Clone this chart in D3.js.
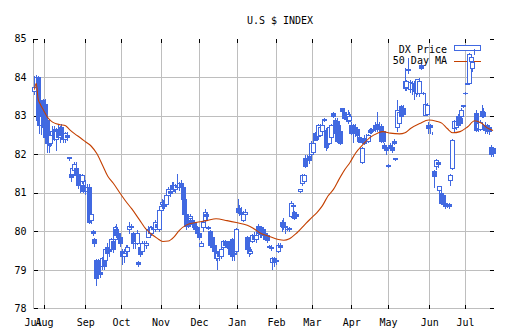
<!DOCTYPE html>
<html>
<head>
<meta charset="utf-8">
<script src="https://cdn.jsdelivr.net/npm/d3@7"></script>
<style>
  body { margin: 0; background: #fff; }
  svg { display: block; }
  text { font-family: "DejaVu Sans Mono", monospace; font-size: 10px; fill: #000; }
</style>
</head>
<body>
<svg id="chart" width="512" height="335"></svg>
<script>
// Daily DX futures prices, one entry per trading day (Jul 2012 - Jul 2013)
const open = [
  83.65,83.75,84.00,83.05,82.75,83.40,83.30,82.90,82.45,82.30,
  82.50,82.65,82.40,82.65,82.45,82.70,82.55,82.40,82.50,81.90,
  81.50,81.50,81.60,81.65,81.50,81.35,81.30,81.20,81.15,81.05,
  81.15,80.30,80.00,79.80,79.25,79.25,78.95,79.10,79.30,79.25,
  79.60,79.60,79.55,79.75,79.80,80.05,79.95,79.85,79.50,79.35,
  79.55,79.50,80.05,80.15,79.95,79.70,79.70,79.20,79.60,79.50,
  79.65,79.65,79.85,80.10,79.95,80.10,80.05,80.20,80.05,80.55,
  80.70,80.80,80.70,80.95,81.05,81.05,81.20,81.10,81.20,81.15,
  81.25,81.15,80.85,80.45,80.30,80.35,80.30,80.25,80.15,80.10,
  79.95,79.62,80.10,80.30,80.45,80.12,80.00,79.85,79.65,79.50,
  79.30,79.45,79.35,79.60,79.75,79.65,79.70,79.75,79.80,79.40,
  79.50,80.60,80.55,80.50,80.30,80.45,79.85,79.55,79.45,79.75,
  79.90,79.80,80.15,79.95,80.10,80.05,79.95,79.90,79.62,79.60,
  79.20,79.30,79.25,79.50,79.65,80.25,80.20,80.15,80.05,80.08,
  80.40,80.65,80.50,80.45,81.08,81.05,81.26,81.30,81.90,81.95,
  81.95,82.00,82.05,82.55,82.50,82.47,82.50,82.60,82.92,82.64,
  82.60,82.30,82.45,83.07,82.90,82.85,82.75,82.60,83.20,83.10,
  82.95,82.85,82.90,82.77,82.75,82.70,82.65,82.45,82.40,81.80,
  82.42,82.40,82.35,82.62,82.65,82.62,82.75,82.78,82.70,82.73,
  82.60,82.25,82.20,81.72,82.25,82.20,82.35,81.90,82.70,82.80,
  83.25,83.20,83.72,83.75,84.22,83.70,83.68,83.85,83.80,83.60,
  83.60,84.32,83.60,83.03,83.05,82.77,82.75,82.55,81.56,81.69,
  81.80,81.08,80.99,80.95,80.73,80.72,80.70,81.34,81.65,82.68,
  82.70,83.00,82.95,82.99,83.28,83.58,83.86,83.85,84.42,84.23,
  84.68,83.07,82.68,82.66,83.12,83.10,82.77,82.75,82.70,82.20,82.15
];
const high = [
  84.05,84.08,84.05,83.35,83.10,83.45,83.45,83.20,82.60,82.60,
  82.75,82.75,82.70,82.80,82.75,82.80,82.70,82.60,82.60,81.95,
  81.60,81.70,81.80,81.80,81.60,81.50,81.50,81.30,81.35,81.25,
  81.25,80.55,80.05,79.85,79.30,79.30,79.20,79.35,79.40,79.60,
  79.70,79.75,79.85,79.85,80.15,80.20,80.00,79.90,79.55,79.50,
  79.65,79.65,80.25,80.20,80.00,79.80,80.05,79.25,79.70,79.75,
  79.75,79.75,80.15,80.15,80.15,80.20,80.30,80.35,80.60,80.75,
  80.85,80.90,81.00,81.15,81.20,81.30,81.30,81.25,81.50,81.30,
  81.35,81.25,80.90,80.55,80.45,80.45,80.40,80.30,80.25,80.15,
  80.05,79.75,80.30,80.60,80.50,80.15,80.05,79.90,79.75,79.60,
  79.50,79.55,79.60,79.80,79.80,79.75,79.75,79.80,79.85,79.50,
  80.10,80.85,80.70,80.65,80.55,80.60,79.90,79.70,79.60,79.95,
  80.00,79.95,80.20,80.10,80.15,80.10,80.00,79.95,79.65,79.65,
  79.35,79.35,79.30,79.72,79.70,80.30,80.35,80.25,80.10,80.12,
  80.80,80.72,80.55,80.50,81.12,81.10,81.50,81.50,82.00,82.00,
  82.05,82.35,82.35,82.60,82.60,82.80,82.80,82.90,82.95,82.70,
  82.70,82.75,82.80,83.10,82.95,82.95,82.85,82.70,83.22,83.20,
  83.05,83.15,83.10,82.85,82.80,82.80,82.70,82.50,82.45,82.20,
  82.50,82.55,82.55,82.70,82.70,82.75,82.85,83.10,82.85,82.80,
  82.70,82.30,82.25,81.75,82.30,82.30,82.40,81.92,83.42,83.20,
  83.30,83.30,84.24,83.95,84.50,83.95,83.90,83.90,83.90,83.95,
  84.00,84.35,83.62,83.60,83.35,82.85,82.80,82.60,81.60,81.90,
  81.85,81.20,81.05,81.00,80.78,80.75,80.75,81.50,82.40,82.90,
  82.95,83.05,83.05,83.20,83.30,83.62,83.90,84.63,84.55,84.40,
  84.75,83.15,82.90,82.90,83.30,83.20,82.85,82.80,82.75,82.25,82.20
];
const low = [
  83.55,83.70,82.80,82.55,82.50,82.60,82.30,82.05,82.05,82.20,
  82.35,82.35,82.10,82.40,82.30,82.45,82.30,82.30,82.35,81.85,
  81.30,81.45,81.50,81.40,81.10,81.00,81.25,81.00,80.95,80.95,
  80.20,80.20,79.90,79.60,78.60,78.85,78.80,79.00,79.00,79.10,
  79.40,79.35,79.50,79.45,79.75,79.85,79.75,79.60,79.15,79.20,
  79.45,79.35,79.95,80.10,79.55,79.55,79.65,79.10,79.35,79.45,
  79.55,79.55,79.85,79.90,79.90,79.95,80.00,80.05,80.00,80.45,
  80.60,80.60,80.65,80.85,80.90,81.00,81.05,81.00,81.10,81.05,
  81.10,80.80,80.40,80.05,80.10,80.30,80.15,80.05,80.00,79.90,
  79.80,79.60,80.00,80.25,80.30,80.05,79.60,79.55,79.40,79.25,
  79.00,79.25,79.30,79.55,79.60,79.55,79.55,79.35,79.25,79.25,
  79.45,80.45,80.40,80.40,80.25,80.35,79.50,79.35,79.40,79.70,
  79.75,79.70,79.90,79.85,79.85,79.85,79.75,79.70,79.55,79.50,
  79.00,79.10,79.15,79.45,79.50,80.00,80.05,79.95,80.02,80.00,
  80.35,80.60,80.30,80.35,81.05,81.00,81.20,81.25,81.65,81.80,
  81.75,81.95,82.00,82.35,82.35,82.45,82.45,82.55,82.85,82.10,
  82.15,82.25,82.40,82.95,82.50,82.30,82.35,82.25,83.10,82.90,
  82.85,82.80,82.85,82.50,82.30,82.45,82.40,82.30,82.30,81.75,
  82.25,82.30,82.30,82.55,82.55,82.58,82.60,82.60,82.60,82.30,
  82.30,82.10,82.00,81.65,82.10,82.05,82.25,81.85,82.60,82.75,
  82.95,83.00,83.65,83.65,84.10,83.60,83.55,83.42,83.50,83.55,
  83.50,84.20,83.55,83.00,83.00,82.55,82.55,82.50,81.13,81.60,
  81.65,81.00,80.70,80.65,80.60,80.62,80.60,81.20,81.60,82.60,
  82.65,82.75,82.75,82.90,83.20,83.55,83.80,83.80,84.35,84.15,
  84.60,82.60,82.60,82.62,82.95,82.95,82.55,82.55,82.50,81.95,81.95
];
const close = [
  83.75,84.00,82.90,82.75,83.00,82.70,82.45,82.30,82.25,82.50,
  82.60,82.40,82.60,82.45,82.65,82.50,82.40,82.55,82.45,81.92,
  81.40,81.65,81.75,81.45,81.20,81.30,81.45,81.05,81.05,81.15,
  80.25,80.45,79.95,79.70,78.80,78.95,78.90,79.30,79.10,79.55,
  79.45,79.50,79.80,79.55,80.10,79.90,79.85,79.70,79.35,79.45,
  79.50,79.60,80.15,80.12,79.70,79.75,79.95,79.15,79.40,79.70,
  79.65,79.70,80.05,79.95,80.10,80.05,80.25,80.10,80.55,80.65,
  80.75,80.65,80.95,81.10,81.00,81.20,81.10,81.20,81.15,81.25,
  81.15,80.85,80.45,80.15,80.15,80.40,80.20,80.10,80.05,79.95,
  79.85,79.70,80.25,80.50,80.40,80.08,79.65,79.60,79.50,79.30,
  79.45,79.35,79.55,79.75,79.65,79.70,79.60,79.40,79.35,79.45,
  80.05,80.50,80.50,80.45,80.45,80.50,79.55,79.45,79.50,79.90,
  79.80,79.90,79.95,80.00,79.92,79.90,79.80,79.78,79.60,79.58,
  79.30,79.20,79.22,79.65,79.60,80.15,80.12,80.10,80.06,80.05,
  80.74,80.67,80.35,80.40,81.08,81.10,81.47,81.45,81.70,81.95,
  81.85,82.30,82.30,82.38,82.40,82.77,82.70,82.75,82.88,82.20,
  82.30,82.70,82.75,83.00,82.55,82.35,82.45,82.30,83.12,82.95,
  82.92,83.05,83.00,82.55,82.57,82.55,82.50,82.35,82.32,82.15,
  82.30,82.35,82.50,82.58,82.60,82.65,82.65,82.65,82.65,82.34,
  82.35,82.15,82.10,81.70,82.15,82.12,82.30,81.88,83.15,83.10,
  83.00,83.05,83.90,83.90,84.18,83.88,83.85,83.65,83.60,83.94,
  83.90,84.25,83.58,83.30,83.28,82.68,82.70,82.55,81.43,81.86,
  81.75,81.17,80.73,80.70,80.65,80.68,80.65,81.47,82.38,82.86,
  82.85,82.77,82.80,83.16,83.25,83.60,83.83,84.60,84.51,84.38,
  84.68,82.64,82.82,82.84,82.99,83.00,82.62,82.60,82.60,82.00,82.02
];

// 50 day moving average, sampled at trading-day positions
const maDay = [0,1,2,3,5,7,9,11,14,17,19,22,25,28,31,34,37,40,43,47,50,53,57,61,64,67,70,73,76,79,
  83,88,94,99,105,110,116,119,123,128,133,136,139,143,148,151,154,157,160,163,166,169,172,175,179,
  183,187,190,194,199,202,205,210,215,219,222,225,228,232,236,240,244,247,250];
const maValue = [83.69,83.85,83.45,83.33,83.15,82.98,82.88,82.82,82.78,82.75,82.66,82.54,82.44,82.33,
  82.22,82.03,81.74,81.44,81.26,80.98,80.78,80.60,80.33,80.06,79.93,79.83,79.75,79.76,79.86,80.04,
  80.18,80.24,80.29,80.34,80.29,80.24,80.17,80.10,79.97,79.88,79.80,79.78,79.82,79.97,80.22,80.36,
  80.50,80.68,80.93,81.10,81.36,81.60,81.80,82.04,82.26,82.45,82.56,82.60,82.56,82.54,82.57,82.68,
  82.81,82.90,82.87,82.82,82.68,82.57,82.60,82.72,82.88,82.81,82.69,82.63];

// Month boundaries on the trading-day axis
const monthPos = [-0.5, 5.5, 28, 47.5, 69, 90, 110.5, 132, 151.5, 173, 193, 215.5, 235];
const monthLabels = ["Jul","Aug","Sep","Oct","Nov","Dec","Jan","Feb","Mar","Apr","May","Jun","Jul"];
const priceTicks = [78, 79, 80, 81, 82, 83, 84, 85];

const BLUE = "#4169e1";
const MA_COLOR = "#c44000";
const GRID = "#bebebe";

const svg = d3.select("#chart");
const x = d3.scaleLinear().domain([-0.5, open.length - 0.5]).range([33.5, 494]);
const y = d3.scaleLinear().domain([78, 85]).range([308.9, 39.1]);
const [xL, xR] = x.range();
const [yB, yT] = y.range();

// title
svg.append("text").attr("x", 280).attr("y", 24).attr("text-anchor", "middle").text("U.S $ INDEX");

// grid
svg.append("g").attr("transform", `translate(0,${yB})`)
  .call(d3.axisBottom(x).tickValues(monthPos.slice(1)).tickSize(-(yB - yT)).tickFormat("").offset(0))
  .call(g => g.select(".domain").remove())
  .call(g => g.selectAll("line").attr("stroke", GRID).attr("shape-rendering", "crispEdges"));
svg.append("g").attr("transform", `translate(${xL},0)`)
  .call(d3.axisLeft(y).tickValues(priceTicks.slice(1, -1)).tickSize(-(xR - xL)).tickFormat("").offset(0))
  .call(g => g.select(".domain").remove())
  .call(g => g.selectAll("line").attr("stroke", GRID).attr("shape-rendering", "crispEdges"));

// axes with inward ticks
function styleAxis(g, keepDomain) {
  g.selectAll("line").attr("stroke", "#000").attr("shape-rendering", "crispEdges");
  if (keepDomain) g.select(".domain").attr("stroke", GRID).attr("shape-rendering", "crispEdges");
  else g.select(".domain").remove();
  g.selectAll("text").attr("font-family", '"DejaVu Sans Mono", monospace').attr("font-size", 10).attr("fill", "#000");
}
svg.append("g").attr("transform", `translate(0,${yB})`)
  .call(d3.axisBottom(x).tickValues(monthPos).tickFormat((d, i) => monthLabels[i])
    .tickSizeInner(-4).tickSizeOuter(0).tickPadding(10).offset(0))
  .call(g => styleAxis(g, true));
svg.append("g").attr("transform", `translate(${xL},0)`)
  .call(d3.axisLeft(y).tickValues(priceTicks).tickFormat(d3.format("d"))
    .tickSizeInner(-4).tickSizeOuter(0).tickPadding(7).offset(0))
  .call(g => styleAxis(g, true));
svg.append("g").attr("transform", `translate(0,${yT})`)
  .call(d3.axisTop(x).tickValues(monthPos).tickFormat("").tickSizeInner(-4).tickSizeOuter(0).offset(0))
  .call(g => styleAxis(g, false));
svg.append("g").attr("transform", `translate(${xR},0)`)
  .call(d3.axisRight(y).tickValues(priceTicks).tickFormat("").tickSizeInner(-4).tickSizeOuter(0).offset(0))
  .call(g => styleAxis(g, false));

// legend
const legend = svg.append("g");
legend.append("text").attr("x", 447).attr("y", 53).attr("text-anchor", "end").text("DX Price");
legend.append("rect").attr("x", 454.5).attr("y", 45.5).attr("width", 26).attr("height", 5)
  .attr("fill", "#fff").attr("stroke", BLUE).attr("shape-rendering", "crispEdges");
legend.append("text").attr("x", 447).attr("y", 64).attr("text-anchor", "end").text("50 Day MA");
legend.append("line").attr("x1", 454).attr("x2", 481).attr("y1", 61.5).attr("y2", 61.5)
  .attr("stroke", MA_COLOR).attr("shape-rendering", "crispEdges");

// candlesticks: hollow when the day closed up, filled when it closed down
const candles = svg.append("g").attr("shape-rendering", "crispEdges");
open.forEach((o, i) => {
  const c = close[i];
  const cx = Math.floor(x(i)) + 0.5;
  const top = y(Math.max(o, c)), bot = y(Math.min(o, c));
  const g = candles.append("g");
  g.append("line").attr("x1", cx).attr("x2", cx).attr("y1", y(high[i])).attr("y2", y(low[i]))
    .attr("stroke", BLUE);
  g.append("rect").attr("x", cx - 2).attr("width", 4)
    .attr("y", top).attr("height", Math.max(bot - top, 0))
    .attr("fill", c >= o ? "#fff" : BLUE).attr("stroke", BLUE);
});

// moving average
const line = d3.line().x(d => x(d[0])).y(d => y(d[1])).curve(d3.curveMonotoneX);
svg.append("path").datum(maDay.map((d, i) => [d, maValue[i]]))
  .attr("d", line).attr("fill", "none").attr("stroke", MA_COLOR).attr("stroke-width", 1.1);
</script>
</body>
</html>
